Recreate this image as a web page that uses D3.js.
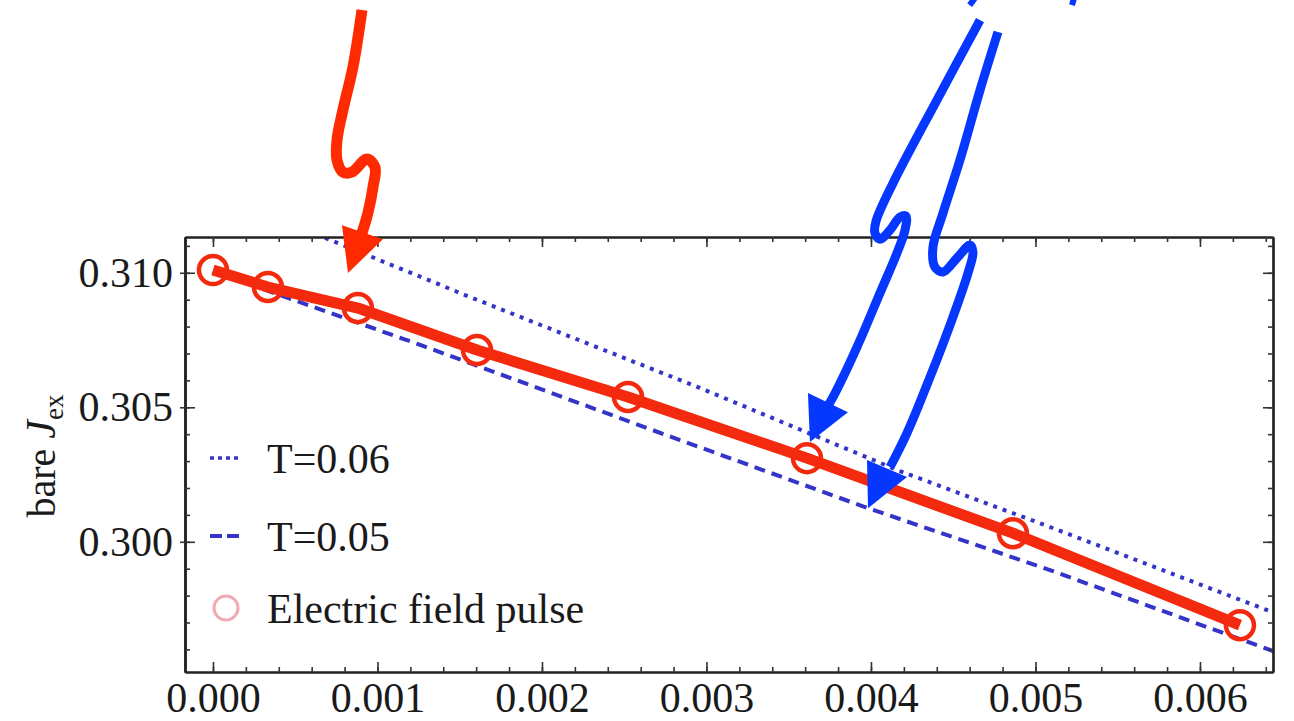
<!DOCTYPE html>
<html>
<head>
<meta charset="utf-8">
<script src="https://cdn.jsdelivr.net/npm/d3@7"></script>
<style>
  body { margin: 0; background: #fff; }
  svg { display: block; }
  text { font-family: "Liberation Serif", "Times New Roman", serif; fill: #1a1a1a; }
</style>
</head>
<body>
<svg id="chart" width="1294" height="721"></svg>
<script>
// electric field pulse points
var pulseX = [0, 0.000334, 0.000881, 0.001605, 0.002523, 0.003611, 0.004863, 0.006243];
var pulseY = [0.31010, 0.30947, 0.30869, 0.30713, 0.30538, 0.30311, 0.30032, 0.29690];

// T=0.06 (dotted)
var t06X = [0.00040, 0.000669, 0.001562, 0.002960, 0.004176, 0.005088, 0.006438, 0.00650];
var t06Y = [0.31200, 0.31133, 0.30910, 0.30572, 0.30263, 0.30055, 0.29739, 0.29724];

// T=0.05 (dashed)
var t05X = [0, 0.000408, 0.001264, 0.002839, 0.003982, 0.005088, 0.006444, 0.00650];
var t05Y = [0.31006, 0.30917, 0.30731, 0.30378, 0.30125, 0.29895, 0.29594, 0.29582];

var xMajor = [0, 0.001, 0.002, 0.003, 0.004, 0.005, 0.006];
var yMajor = [0.300, 0.305, 0.310];
var xMinor = d3.range(0, 33).map(function (i) { return i * 0.0002; });
var yMinor = d3.range(296, 312).map(function (i) { return i / 1000; });

var legendLabels = ["T=0.06", "T=0.05", "Electric field pulse"];

// hand drawn arrows, in thousandths of the data units
var redArrowX = [0.906, 0.851, 0.790, 0.754, 0.754, 0.790, 0.845, 0.936, 0.985, 0.973, 0.942, 0.906];
var redArrowY = [319.77, 317.65, 316.05, 314.93, 314.19, 313.74, 313.74, 314.23, 313.93, 313.19, 312.22, 311.48];
var redHeadX = [0.784, 1.033, 0.821];
var redHeadY = [311.77, 311.25, 309.99];

var blueArrow1X = [4.663, 4.401, 4.134, 4.030, 4.024, 4.055, 4.116, 4.176, 4.213, 4.207, 4.158, 4.055, 3.915, 3.769, 3.733];
var blueArrow1Y = [319.39, 316.42, 313.33, 311.90, 311.48, 311.25, 311.59, 312.07, 312.11, 311.59, 310.73, 309.25, 307.24, 305.38, 305.01];
var blueHead1X = [3.617, 3.860, 3.629];
var blueHead1Y = [305.53, 304.82, 303.71];

var blueArrow2X = [4.772, 4.663, 4.541, 4.438, 4.377, 4.389, 4.438, 4.523, 4.602, 4.620, 4.590, 4.498, 4.359, 4.219, 4.116];
var blueArrow2Y = [318.95, 316.79, 314.19, 312.22, 310.96, 310.21, 310.03, 310.55, 311.03, 310.77, 309.99, 308.35, 306.12, 304.04, 302.78];
var blueHead2X = [3.976, 4.219, 3.982];
var blueHead2Y = [303.04, 302.41, 301.25];

var fragX = [[4.632, 4.600], [5.234, 5.222]];
var fragY = [[320.21, 319.95], [320.21, 319.95]];

var svg = d3.select("#chart");
var L = 185, R = 1273, T = 237, B = 672;

var x = d3.scaleLinear().domain([-0.00017, 0.006444]).range([L, R]);
var y = d3.scaleLinear().domain([0.29516, 0.31133]).range([B, T]);

function pts(xs, ys, k) {
  k = k || 1;
  return xs.map(function (v, i) { return [v * k, ys[i] * k]; });
}

svg.append("clipPath").attr("id", "plotclip")
  .append("rect").attr("x", L).attr("y", T).attr("width", R - L).attr("height", B - T);

var line = d3.line().x(function (d) { return x(d[0]); }).y(function (d) { return y(d[1]); });

var plot = svg.append("g").attr("clip-path", "url(#plotclip)");

plot.append("path")
  .attr("d", line(pts(t06X, t06Y)))
  .attr("fill", "none").attr("stroke", "#3434c8").attr("stroke-width", 4)
  .attr("stroke-dasharray", "4,6");

plot.append("path")
  .attr("d", line(pts(t05X, t05Y)))
  .attr("fill", "none").attr("stroke", "#3434c8").attr("stroke-width", 4)
  .attr("stroke-dasharray", "11,7");

var pulse = pts(pulseX, pulseY);
plot.append("path")
  .attr("d", line(pulse))
  .attr("fill", "none").attr("stroke", "#f42a0e").attr("stroke-width", 11)
  .attr("stroke-linejoin", "round");

svg.append("g").selectAll("circle")
  .data(pulse).enter()
  .append("circle")
  .attr("cx", function (d) { return x(d[0]); })
  .attr("cy", function (d) { return y(d[1]); })
  .attr("r", 14)
  .attr("fill", "none")
  .attr("stroke", "#f42a0e")
  .attr("stroke-width", 4.5);

// frame and ticks
function noLabel() { return ""; }
var axes = svg.append("g").attr("class", "axes");

axes.append("g").attr("transform", "translate(0," + B + ")")
  .call(d3.axisBottom(x).tickValues(xMajor).tickSize(-10).tickSizeOuter(0).tickPadding(10)
    .tickFormat(d3.format(".3f")));
axes.append("g").attr("transform", "translate(0," + B + ")")
  .call(d3.axisBottom(x).tickValues(xMinor).tickSize(-5).tickSizeOuter(0).tickFormat(noLabel));
axes.append("g").attr("transform", "translate(0," + T + ")")
  .call(d3.axisTop(x).tickValues(xMajor).tickSize(-10).tickSizeOuter(0).tickFormat(noLabel));
axes.append("g").attr("transform", "translate(0," + T + ")")
  .call(d3.axisTop(x).tickValues(xMinor).tickSize(-5).tickSizeOuter(0).tickFormat(noLabel));

axes.append("g").attr("transform", "translate(" + L + ",0)")
  .call(d3.axisLeft(y).tickValues(yMajor).tickSize(-10).tickSizeOuter(0).tickPadding(12)
    .tickFormat(d3.format(".3f")));
axes.append("g").attr("transform", "translate(" + L + ",0)")
  .call(d3.axisLeft(y).tickValues(yMajor).tickSize(5).tickSizeOuter(0).tickFormat(noLabel));
axes.append("g").attr("transform", "translate(" + L + ",0)")
  .call(d3.axisLeft(y).tickValues(yMinor).tickSize(-5).tickSizeOuter(0).tickFormat(noLabel));
axes.append("g").attr("transform", "translate(" + R + ",0)")
  .call(d3.axisRight(y).tickValues(yMajor).tickSize(-10).tickSizeOuter(0).tickFormat(noLabel));
axes.append("g").attr("transform", "translate(" + R + ",0)")
  .call(d3.axisRight(y).tickValues(yMinor).tickSize(-5).tickSizeOuter(0).tickFormat(noLabel));

axes.selectAll(".domain").attr("stroke", "#222").attr("stroke-width", 2.2);
axes.selectAll(".tick line").attr("stroke", "#333").attr("stroke-width", 1.6);
axes.selectAll(".tick text").attr("font-size", 42).attr("font-family", "Liberation Serif").attr("fill", "#1a1a1a");

// y axis title
var yTitle = svg.append("text")
  .attr("transform", "translate(55,456) rotate(-90)")
  .attr("text-anchor", "middle")
  .attr("font-size", 40);
yTitle.append("tspan").text("bare ");
yTitle.append("tspan").attr("font-style", "italic").attr("font-size", 42).text("J");
yTitle.append("tspan").attr("font-size", 27).attr("dy", 8).text("ex");

// legend
var legend = svg.append("g");
var legY = [458, 536, 608];
legend.append("line").attr("x1", 210).attr("x2", 241).attr("y1", legY[0]).attr("y2", legY[0])
  .attr("stroke", "#3434c8").attr("stroke-width", 3.6).attr("stroke-dasharray", "4,4");
legend.append("line").attr("x1", 210).attr("x2", 241).attr("y1", legY[1]).attr("y2", legY[1])
  .attr("stroke", "#3434c8").attr("stroke-width", 3.8).attr("stroke-dasharray", "12,5");
legend.append("circle").attr("cx", 226).attr("cy", legY[2]).attr("r", 12)
  .attr("fill", "none").attr("stroke", "#f2a9b3").attr("stroke-width", 3);
legend.selectAll("text.leg")
  .data(legendLabels).enter()
  .append("text").attr("class", "leg")
  .attr("x", 267)
  .attr("y", function (d, i) { return legY[i] + 15; })
  .attr("font-size", 42)
  .text(function (d) { return d; });

// hand drawn arrows
var curve = d3.line().curve(d3.curveCatmullRom.alpha(0.5))
  .x(function (d) { return x(d[0]); }).y(function (d) { return y(d[1]); });
var notes = svg.append("g");

function arrow(xs, ys, hx, hy, color, width) {
  notes.append("path")
    .attr("d", curve(pts(xs, ys, 0.001)))
    .attr("fill", "none").attr("stroke", color).attr("stroke-width", width)
    .attr("stroke-linejoin", "round");
  notes.append("path")
    .attr("d", line(pts(hx, hy, 0.001)) + "Z")
    .attr("fill", color).attr("stroke", "none");
}

arrow(redArrowX, redArrowY, redHeadX, redHeadY, "#ff2a00", 11);
arrow(blueArrow1X, blueArrow1Y, blueHead1X, blueHead1Y, "#0537ff", 9);
arrow(blueArrow2X, blueArrow2Y, blueHead2X, blueHead2Y, "#0537ff", 9);

fragX.forEach(function (fx, i) {
  notes.append("path")
    .attr("d", line(pts(fx, fragY[i], 0.001)))
    .attr("stroke", "#0537ff").attr("stroke-width", 6).attr("fill", "none");
});
</script>
</body>
</html>
